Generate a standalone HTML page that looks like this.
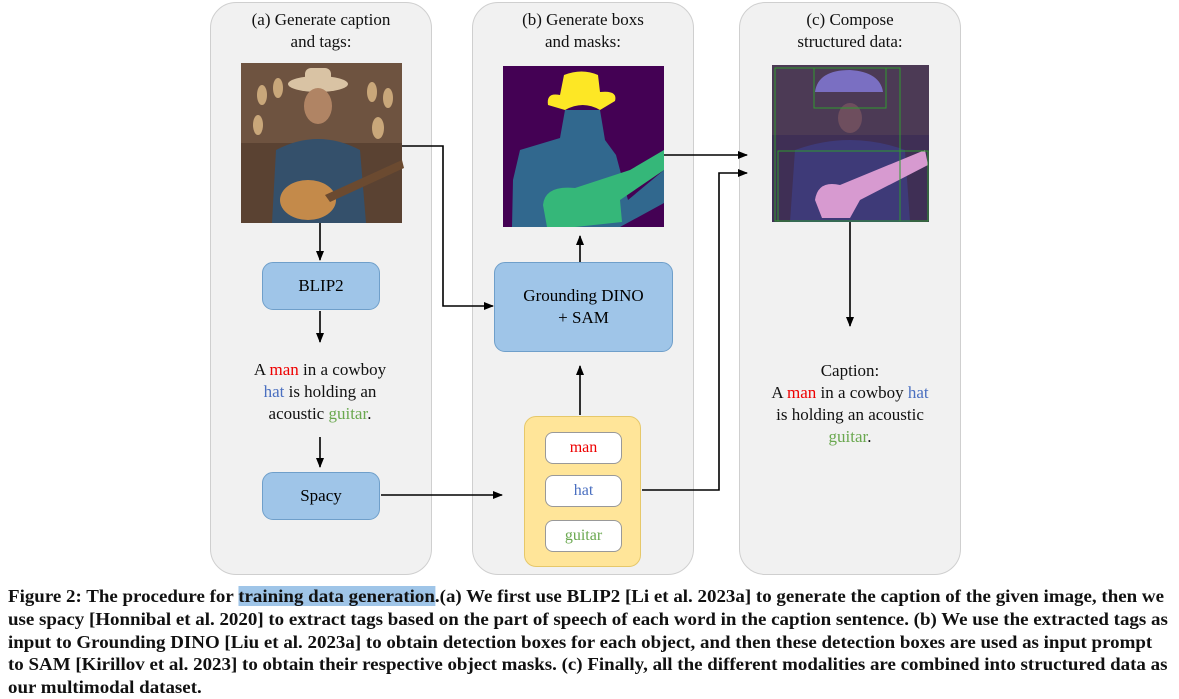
<!DOCTYPE html>
<html><head><meta charset="utf-8"><style>
body{margin:0;width:1179px;height:699px;background:#fff;position:relative;overflow:hidden;font-family:"Liberation Serif",serif}
.p{position:absolute;top:2px;width:222px;height:573px;background:#f1f1f1;border:1px solid #cfcfcf;border-radius:26px;box-sizing:border-box}
.t{position:absolute;text-align:center;font-size:17px;line-height:22px;color:#111}
.b{position:absolute;background:#9fc5e8;border:1px solid #6f9fca;border-radius:11px;box-sizing:border-box;display:flex;align-items:center;justify-content:center;text-align:center;font-size:17px;line-height:22px}
.tag{position:absolute;left:545px;width:77px;height:32px;background:#fff;border:1px solid #999;border-radius:8px;box-sizing:border-box;text-align:center;line-height:30px;font-size:16px}
.cap{position:absolute;left:8px;top:585px;width:1380px;font-weight:bold;font-size:17.5px;line-height:22.8px;color:#111;transform:scaleX(1.082);transform-origin:0 0;white-space:nowrap}
.r{color:#e00}.bl{color:#4a6fc0}.g{color:#6aa84f}
</style></head><body>
<div class="p" style="left:210px"></div>
<div class="p" style="left:472px"></div>
<div class="p" style="left:739px"></div>
<div class="t" style="left:210px;width:222px;top:9px">(a) Generate caption<br>and tags:</div>
<div class="t" style="left:472px;width:222px;top:9px">(b) Generate boxs<br>and masks:</div>
<div class="t" style="left:739px;width:222px;top:9px">(c) Compose<br>structured data:</div>

<svg style="position:absolute;left:0;top:0" width="1179" height="699">
<defs><marker id="a" markerWidth="10" markerHeight="10" refX="9" refY="5" orient="auto" markerUnits="userSpaceOnUse"><path d="M0,1 L10,5 L0,9z" fill="#000"/></marker></defs>
<rect x="241" y="63" width="161" height="160" fill="#5a4232"/>
<rect x="241" y="63" width="161" height="80" fill="#6e5340"/>
<g fill="#c9a77a"><ellipse cx="262" cy="95" rx="5" ry="10"/><ellipse cx="278" cy="88" rx="5" ry="10"/><ellipse cx="372" cy="92" rx="5" ry="10"/><ellipse cx="388" cy="98" rx="5" ry="10"/><ellipse cx="258" cy="125" rx="5" ry="10"/><ellipse cx="378" cy="128" rx="6" ry="11"/></g>
<ellipse cx="318" cy="84" rx="30" ry="8" fill="#d9c3a4"/><rect x="305" y="68" width="26" height="16" rx="6" fill="#d9c3a4"/>
<ellipse cx="318" cy="106" rx="14" ry="18" fill="#b08464"/>
<path d="M272,223 L276,150 Q318,128 360,150 L366,223z" fill="#34506b"/>
<ellipse cx="308" cy="200" rx="28" ry="20" fill="#c48a4a"/><path d="M325,195 L402,160 L404,168 L330,202z" fill="#6b4a30"/>
<rect x="503" y="66" width="161" height="161" fill="#440154"/>
<path d="M548,105 Q546,92 560,95 L564,75 Q582,68 598,75 L600,92 Q618,90 615,101 L600,110 Q583,100 565,110z" fill="#fde725"/>
<path d="M565,110 L600,110 L605,140 L616,155 L628,200 L664,170 L664,203 L620,227 L512,227 L513,180 L520,150 L560,138z" fill="#31688e"/>
<path d="M543,205 Q545,185 575,188 L630,170 L664,150 L664,170 L620,200 L622,222 L575,227 L547,227z" fill="#35b779"/>
<rect x="772" y="65" width="157" height="157" fill="#3f2f55"/>
<rect x="772" y="65" width="157" height="70" fill="#4c3a55"/>
<path d="M815,92 Q818,70 850,70 Q880,72 883,92 Z" fill="#7a6fc2"/>
<ellipse cx="850" cy="118" rx="12" ry="15" fill="#6e4e5e"/>
<path d="M790,222 L795,150 Q850,130 905,150 L910,222z" fill="#3e3a78"/>
<path d="M815,200 Q818,180 840,185 L925,150 L928,165 L860,200 L850,218 L822,218z" fill="#d79ad0"/>
<g fill="none" stroke="#2f9a2f" stroke-width="1"><rect x="775" y="68" width="125" height="153"/><rect x="814" y="68" width="72" height="40"/><rect x="778" y="151" width="150" height="70"/></g>
<g stroke="#000" stroke-width="1.6" fill="none">
<line x1="320" y1="223" x2="320" y2="260" marker-end="url(#a)"/>
<line x1="320" y1="311" x2="320" y2="342" marker-end="url(#a)"/>
<line x1="320" y1="437" x2="320" y2="467" marker-end="url(#a)"/>
<line x1="381" y1="495" x2="502" y2="495" marker-end="url(#a)"/>
<line x1="580" y1="415" x2="580" y2="366" marker-end="url(#a)"/>
<line x1="580" y1="262" x2="580" y2="236" marker-end="url(#a)"/>
<polyline points="402,146 443,146 443,306 493,306" marker-end="url(#a)"/>
<line x1="664" y1="155" x2="747" y2="155" marker-end="url(#a)"/>
<polyline points="642,490 719,490 719,173 747,173" marker-end="url(#a)"/>
<line x1="850" y1="222" x2="850" y2="326" marker-end="url(#a)"/>
</g></svg>

<div class="b" style="left:262px;top:262px;width:118px;height:48px">BLIP2</div>
<div class="b" style="left:262px;top:472px;width:118px;height:48px">Spacy</div>
<div class="b" style="left:494px;top:262px;width:179px;height:90px">Grounding DINO<br>+ SAM</div>
<div class="t" style="left:220px;width:200px;top:359px">A <span class="r">man</span> in a cowboy<br><span class="bl">hat</span> is holding an<br>acoustic <span class="g">guitar</span>.</div>
<div style="position:absolute;left:524px;top:416px;width:117px;height:151px;background:#ffe599;border:1px solid #e6c86a;border-radius:12px;box-sizing:border-box"></div>
<div class="tag r" style="top:432px">man</div>
<div class="tag bl" style="top:475px">hat</div>
<div class="tag g" style="top:520px">guitar</div>
<div class="t" style="left:750px;width:200px;top:360px">Caption:<br>A <span class="r">man</span> in a cowboy <span class="bl">hat</span><br>is holding an acoustic<br><span class="g">guitar</span>.</div>

<div class="cap">Figure 2: The procedure for <span style="background:#9fc5e8">training data generation</span>.(a) We first use BLIP2 [Li et al. 2023a] to generate the caption of the given image, then we<br>use spacy [Honnibal et al. 2020] to extract tags based on the part of speech of each word in the caption sentence. (b) We use the extracted tags as<br>input to Grounding DINO [Liu et al. 2023a] to obtain detection boxes for each object, and then these detection boxes are used as input prompt<br>to SAM [Kirillov et al. 2023] to obtain their respective object masks. (c) Finally, all the different modalities are combined into structured data as<br>our multimodal dataset.</div>
</body></html>
